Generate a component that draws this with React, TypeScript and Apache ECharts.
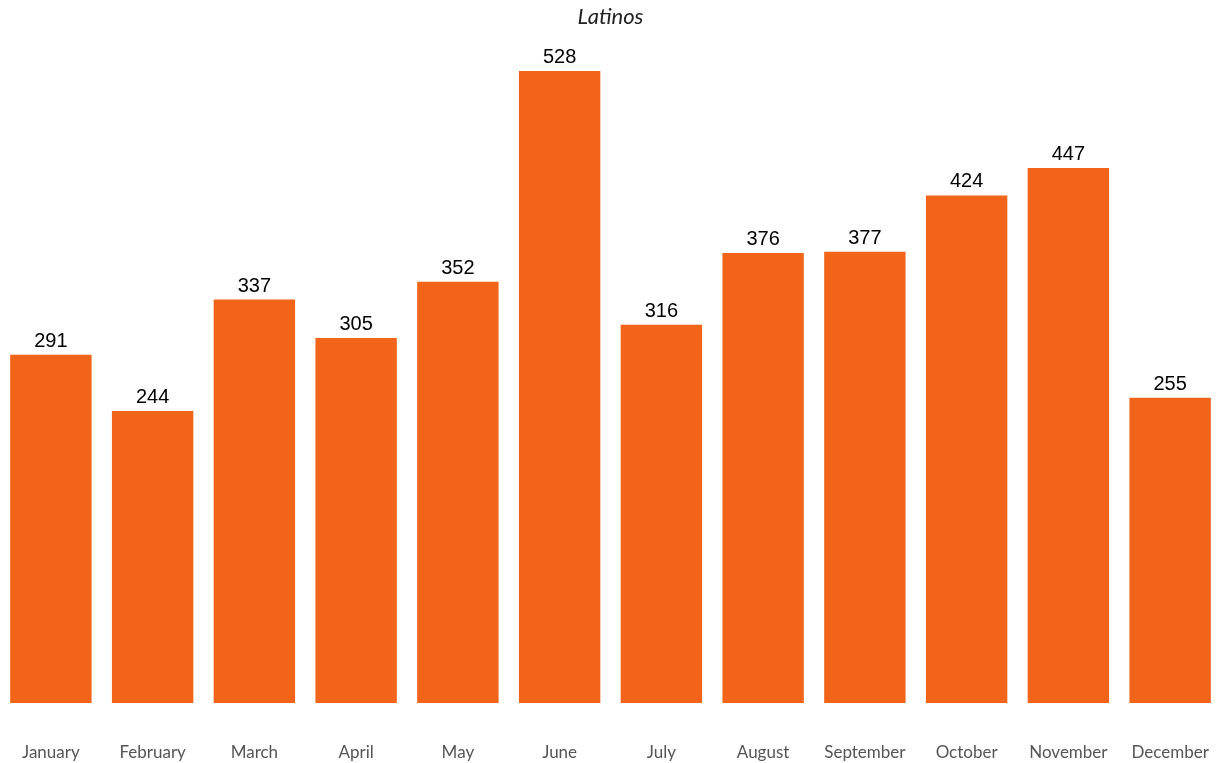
import React, { useEffect, useRef } from "react";
import * as echarts from "echarts";

const categories = ["January", "February", "March", "April", "May", "June", "July", "August", "September", "October", "November", "December"];
const values = [291, 244, 337, 305, 352, 528, 316, 376, 377, 424, 447, 255];
const titleText = "Latinos";

export default function App() {
  const ref = useRef<HTMLDivElement>(null);
  useEffect(() => {
    if (!ref.current) return;
    const chart = echarts.init(ref.current, null, { renderer: "svg" });
    chart.setOption({
      animation: false,
      title: {
        text: titleText,
        left: "center",
        top: -1,
        textStyle: { fontFamily: "Lato", fontStyle: "italic", fontWeight: "normal", fontSize: 22, color: "#222" },
      },
      grid: { left: -1.5, right: -2.5, top: 71, bottom: 60, containLabel: false },
      xAxis: {
        type: "category",
        data: categories,
        axisLine: { show: false },
        axisTick: { show: false },
        axisLabel: { color: "#555", fontFamily: "Lato", fontSize: 17, margin: 40, interval: 0 },
      },
      yAxis: {
        type: "value",
        min: 0,
        max: 528,
        show: false,
        splitLine: { show: false },
      },
      series: [
        {
          type: "bar",
          data: values,
          barCategoryGap: "20%",
          itemStyle: { color: "#F26419" },
          label: {
            show: true,
            position: "top",
            distance: 5,
            color: "#000",
            fontFamily: "Liberation Sans",
            fontSize: 20,
          },
        },
      ],
    });
    return () => chart.dispose();
  }, []);
  return <div ref={ref} style={{ position: "fixed", left: 0, top: 0, width: 1221, height: 763 }} />;
}
